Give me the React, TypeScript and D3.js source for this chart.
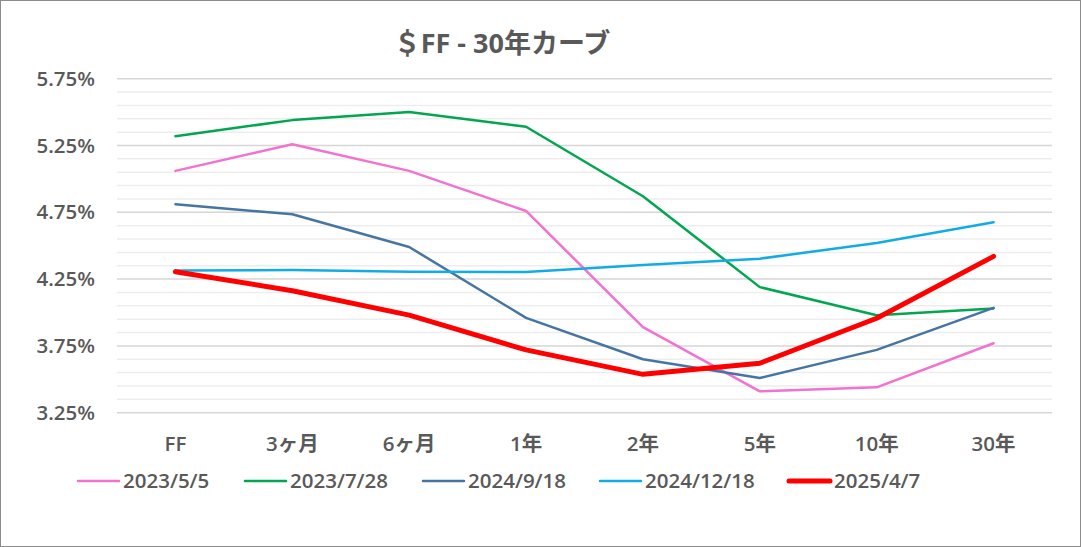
import React, { useRef, useEffect } from 'react';
import * as d3 from 'd3';

const categories = ['FF', '3ヶ月', '6ヶ月', '1年', '2年', '5年', '10年', '30年'];

const seriesNames = ['2023/5/5', '2023/7/28', '2024/9/18', '2024/12/18', '2025/4/7'];
const seriesColors = ['#F172CF', '#00A650', '#4675A2', '#12ACE4', '#FF0000'];
const seriesWidths = [2.5, 2.5, 2.5, 2.5, 5];

const rates20230505 = [5.06, 5.26, 5.06, 4.76, 3.89, 3.41, 3.44, 3.77];
const rates20230728 = [5.32, 5.44, 5.50, 5.39, 4.87, 4.19, 3.98, 4.03];
const rates20240918 = [4.81, 4.735, 4.49, 3.96, 3.65, 3.51, 3.72, 4.035];
const rates20241218 = [4.315, 4.318, 4.305, 4.303, 4.355, 4.403, 4.52, 4.675];
const rates20250407 = [4.305, 4.163, 3.98, 3.72, 3.537, 3.62, 3.957, 4.42];

const seriesValues = [rates20230505, rates20230728, rates20240918, rates20241218, rates20250407];

const yTicks = [3.25, 3.75, 4.25, 4.75, 5.25, 5.75];

const W = 1081;
const H = 547;
const FONT = '"Open Sans", "Noto Sans CJK JP", sans-serif';
const TEXT = '#595959';

const App: React.FC = () => {
  const ref = useRef<SVGSVGElement | null>(null);

  useEffect(() => {
    const svg = d3.select(ref.current);
    svg.selectAll('*').remove();

    const left = 117, right = 1052, top = 78.7, bottom = 412.7;

    const x = d3.scaleBand<string>().domain(categories).range([left, right]);
    const y = d3.scaleLinear().domain([3.25, 5.75]).range([bottom, top]);
    const cx = (c: string) => (x(c) ?? 0) + x.bandwidth() / 2;

    svg.append('rect')
      .attr('x', 0.5).attr('y', 0.5)
      .attr('width', W - 1).attr('height', H - 1)
      .attr('fill', '#fff').attr('stroke', '#8c8c8c');

    // title
    svg.append('text')
      .attr('x', 502).attr('y', 53)
      .attr('text-anchor', 'middle')
      .style('font-family', FONT).style('font-size', '27px').style('font-weight', 700)
      .attr('fill', TEXT)
      .text('＄FF - 30年カーブ');

    // minor gridlines
    const minor = d3.range(3.35, 5.75, 0.1).filter((v) => !yTicks.some((t) => Math.abs(t - v) < 1e-6));
    svg.append('g').selectAll('line').data(minor).join('line')
      .attr('x1', left).attr('x2', right)
      .attr('y1', (d) => y(d)).attr('y2', (d) => y(d))
      .attr('stroke', '#EDEDED').attr('stroke-width', 1.5);

    // major gridlines
    svg.append('g').selectAll('line').data(yTicks).join('line')
      .attr('x1', left).attr('x2', right)
      .attr('y1', (d) => y(d)).attr('y2', (d) => y(d))
      .attr('stroke', '#D6D6D6').attr('stroke-width', 1.5);

    // y labels
    svg.append('g').selectAll('text').data(yTicks).join('text')
      .attr('x', 95).attr('y', (d) => y(d))
      .attr('dy', '0.35em')
      .attr('text-anchor', 'end')
      .style('font-family', FONT).style('font-size', '20.5px').style('font-weight', 600)
      .attr('fill', TEXT)
      .text((d) => d.toFixed(2) + '%');

    // x labels
    svg.append('g').selectAll('text').data(categories).join('text')
      .attr('x', (d) => cx(d)).attr('y', 451)
      .attr('text-anchor', 'middle')
      .style('font-family', FONT).style('font-size', '20.5px').style('font-weight', 600)
      .attr('fill', TEXT)
      .text((d) => d);

    const line = d3.line<number>()
      .x((_, i) => cx(categories[i]))
      .y((d) => y(d));

    seriesValues.forEach((vals, i) => {
      svg.append('path')
        .attr('d', line(vals)!)
        .attr('fill', 'none')
        .attr('stroke', seriesColors[i])
        .attr('stroke-width', seriesWidths[i])
        .attr('stroke-linejoin', 'round')
        .attr('stroke-linecap', 'round');
    });

    // legend
    const legendX = [78, 245, 423, 600, 789];
    const ly = 481;
    seriesNames.forEach((name, i) => {
      const g = svg.append('g');
      g.append('line')
        .attr('x1', legendX[i]).attr('x2', legendX[i] + 41)
        .attr('y1', ly).attr('y2', ly)
        .attr('stroke', seriesColors[i])
        .attr('stroke-width', seriesWidths[i])
        .attr('stroke-linecap', 'round');
      g.append('text')
        .attr('x', legendX[i] + 45).attr('y', ly)
        .attr('dy', '0.35em')
        .style('font-family', FONT).style('font-size', '20.5px').style('font-weight', 600)
        .attr('fill', TEXT)
        .text(name);
    });
  }, []);

  return (
    <svg
      ref={ref}
      width={W}
      height={H}
      style={{ position: 'absolute', left: 0, top: 0 }}
    />
  );
};

export default App;
